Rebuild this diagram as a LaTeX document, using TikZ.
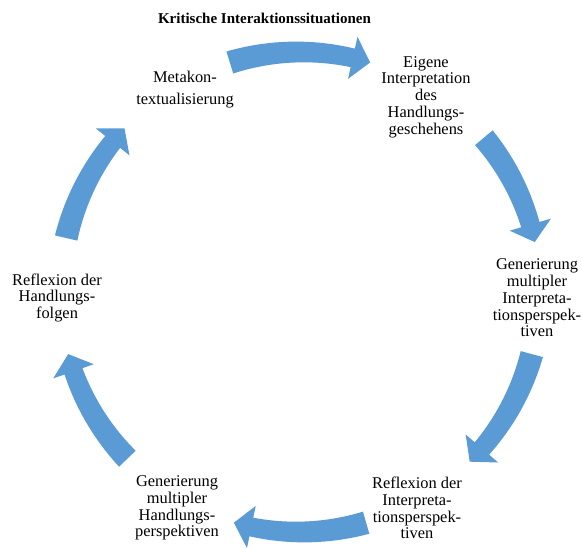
\documentclass[tikz,border=0pt]{standalone}
\usepackage{fontspec}
\setmainfont{Liberation Serif}
\definecolor{arrowblue}{RGB}{91,155,213}
\newcommand\cyclearrow[2]{%
  \pgfmathsetmacro\hb{(#2)+4.3}%
  \fill[arrowblue] plot[domain=#1:\hb, samples=30] (\x:{249.5+2*((\x)-(\hb))/((#1)-(\hb))})
    -- (\hb:261.5) -- (#2:240) -- (\hb:218.5)
    -- plot[domain=\hb:#1, samples=30] (\x:{230.5-2*((\x)-(\hb))/((#1)-(\hb))}) -- cycle;%
}
\begin{document}
\begin{tikzpicture}[x=1pt,y=1pt,
  lbl/.style={align=center, inner sep=0pt, font=\fontsize{16.4}{16.7}\selectfont},
  ttl/.style={inner sep=0pt, font=\fontsize{15}{17}\selectfont\bfseries}]
\useasboundingbox (0,0) rectangle (582,548);
\node[ttl] (title) at (264.5,530) {Kritische Interaktionssituationen};
\node[lbl, font=\fontsize{16.4}{22}\selectfont] (meta) at (185,458) {Metakon-\\textualisierung};
\node[lbl] (eig) at (426,451) {Eigene\\Interpretation\\des\\Handlungs-\\geschehens};
\node[lbl] (genI) at (537,250) {Generierung\\multipler\\Interpreta-\\tionsperspek-\\tiven};
\node[lbl] (refI) at (417,40) {Reflexion der\\Interpreta-\\tionsperspek-\\tiven};
\node[lbl] (genH) at (177,40) {Generierung\\multipler\\Handlungs-\\perspektiven};
\node[lbl] (refH) at (57,250) {Reflexion der\\Handlungs-\\folgen};
\begin{scope}[shift={(300,256)}]
  \cyclearrow{107}{73}
  \cyclearrow{40}{12}
  \cyclearrow{-15}{-45}
  \cyclearrow{-74}{-106}
  \cyclearrow{-136}{-165}
  \cyclearrow{167}{137}
\end{scope}
\end{tikzpicture}
\end{document}
